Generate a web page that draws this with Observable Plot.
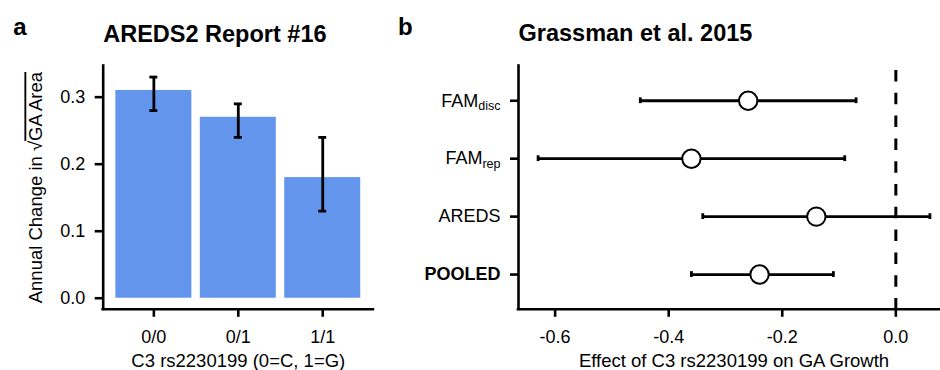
<!DOCTYPE html>
<html>
<head>
<meta charset="utf-8">
<script src="https://cdn.jsdelivr.net/npm/d3@7"></script>
<script src="https://cdn.jsdelivr.net/npm/@observablehq/plot@0.6"></script>
<style>
  body { margin: 0; background: #fff; }
  #wrap { position: relative; width: 940px; height: 370px; overflow: hidden; background: #fff; }
  #pa { position: absolute; left: 0; top: 0; width: 380px; height: 370px; }
  #pb { position: absolute; left: 380px; top: 0; width: 569px; height: 370px; }
</style>
</head>
<body>
<div id="wrap"><div id="pa"></div><div id="pb"></div></div>
<script>
// ---------- Panel a: AREDS2 Report #16 ----------
const genotypes = ["0/0", "0/1", "1/1"];
const growthMean = [0.31, 0.27, 0.18];
const growthLo = [0.28, 0.24, 0.13];
const growthHi = [0.33, 0.29, 0.24];
const yTicksA = [0.0, 0.1, 0.2, 0.3];
const titleA = "AREDS2 Report #16";
const xTitleA = "C3 rs2230199 (0=C, 1=G)";
const yTitleA = "Annual Change in √GA Area";

// ---------- Panel b: Grassman et al. 2015 (top to bottom) ----------
const studyMain = ["FAM", "FAM", "AREDS", "POOLED"];
const studySub = ["disc", "rep", "", ""];
const effect = [-0.26, -0.36, -0.14, -0.24];
const effectLo = [-0.45, -0.63, -0.34, -0.36];
const effectHi = [-0.07, -0.09, 0.06, -0.11];
const xTicksB = [-0.6, -0.4, -0.2, 0.0];
const refLine = [0];
const titleB = "Grassman et al. 2015";
const xTitleB = "Effect of C3 rs2230199 on GA Growth";

const FONT = "'Liberation Sans', Arial, Helvetica, sans-serif";
const AXW = 2.6;

const dataA = genotypes.map((g, i) => ({g, pos: i + 1, mean: growthMean[i], lo: growthLo[i], hi: growthHi[i]}));
const xDomA = [0.4, genotypes.length + 0.6];
const yDomA = [-0.0165, 0.3465];

const plotA = Plot.plot({
  width: 380, height: 370,
  marginLeft: 102.7, marginRight: 7.1, marginTop: 65.5, marginBottom: 61.2,
  style: {fontFamily: FONT, fontSize: "18px", color: "#000", background: "#fff", overflow: "visible"},
  x: {domain: xDomA},
  y: {domain: yDomA},
  marks: [
    Plot.rect(dataA, {x1: d => d.pos - 0.45, x2: d => d.pos + 0.45, y1: d => 0, y2: "mean", fill: "#6495ED"}),
    Plot.ruleX(dataA, {x: "pos", y1: "lo", y2: "hi", stroke: "#000", strokeWidth: 2.8}),
    Plot.ruleY(dataA, {y: "lo", x1: d => d.pos - 0.047, x2: d => d.pos + 0.047, stroke: "#000", strokeWidth: 2.8}),
    Plot.ruleY(dataA, {y: "hi", x1: d => d.pos - 0.047, x2: d => d.pos + 0.047, stroke: "#000", strokeWidth: 2.8}),
    Plot.ruleX([xDomA[0]], {stroke: "#000", strokeWidth: AXW, strokeLinecap: "square"}),
    Plot.ruleY([yDomA[0]], {stroke: "#000", strokeWidth: AXW, strokeLinecap: "square"}),
    Plot.axisY({ticks: yTicksA, tickFormat: d => d.toFixed(1), tickSize: 8, tickPadding: 10, strokeWidth: AXW, label: null, fontSize: 18}),
    Plot.axisX({ticks: dataA.map(d => d.pos), tickFormat: p => genotypes[p - 1], tickSize: 8, tickPadding: 13, strokeWidth: AXW, label: null, fontSize: 18}),
    Plot.text([titleA], {text: d => d, frameAnchor: "top-left", textAnchor: "start", lineAnchor: "bottom", dy: -24, fontSize: 23.5, fontWeight: "bold"}),
    Plot.text(["a"], {text: d => d, frameAnchor: "top-left", textAnchor: "start", lineAnchor: "bottom", dx: -90, dy: -31.5, fontSize: 24, fontWeight: "bold"}),
    Plot.text([xTitleA], {text: d => d, frameAnchor: "bottom", lineAnchor: "bottom", dy: 57.2, fontSize: 18.5}),
    Plot.text([yTitleA], {text: d => d, frameAnchor: "left", rotate: -90, textAnchor: "middle", lineAnchor: "middle", dx: -66.7, fontSize: 18.5})
  ]
});
document.getElementById("pa").appendChild(plotA);

// sqrt overline on the y title
d3.select(plotA).selectAll("text").each(function() {
  if (this.textContent === yTitleA) {
    const t = d3.select(this);
    const parts = yTitleA.split("√");
    t.text(null);
    t.append("tspan").text(parts[0] + "√");
    t.append("tspan").style("text-decoration", "overline").text(parts[1]);
  }
});

// ---------- Panel b ----------
const n = studyMain.length;
const dataB = studyMain.map((m, i) => ({
  label: m + studySub[i], main: m, sub: studySub[i], pos: n - i,
  est: effect[i], lo: effectLo[i], hi: effectHi[i]
}));
const xDomB = [-0.6645, 0.0945];
const yDomB = [0.4, n + 0.6];

const plotB = Plot.plot({
  width: 569, height: 370,
  marginLeft: 138, marginRight: 0, marginTop: 65.5, marginBottom: 61.2,
  style: {fontFamily: FONT, fontSize: "18px", color: "#000", background: "#fff", overflow: "visible"},
  x: {domain: xDomB},
  y: {domain: yDomB},
  marks: [
    Plot.ruleX(refLine, {stroke: "#000", strokeWidth: 3, strokeDasharray: "11.5,11.3", strokeDashoffset: 18.3}),
    Plot.ruleY(dataB, {y: "pos", x1: "lo", x2: "hi", stroke: "#000", strokeWidth: 2.8}),
    Plot.ruleX(dataB, {x: "lo", y1: d => d.pos - 0.05, y2: d => d.pos + 0.05, stroke: "#000", strokeWidth: 2.8}),
    Plot.ruleX(dataB, {x: "hi", y1: d => d.pos - 0.05, y2: d => d.pos + 0.05, stroke: "#000", strokeWidth: 2.8}),
    Plot.dot(dataB, {x: "est", y: "pos", r: 9.2, fill: "#fff", stroke: "#000", strokeWidth: 2}),
    Plot.ruleX([xDomB[0]], {stroke: "#000", strokeWidth: AXW, strokeLinecap: "square"}),
    Plot.ruleY([yDomB[0]], {stroke: "#000", strokeWidth: AXW, strokeLinecap: "square"}),
    Plot.axisY({ticks: dataB.map(d => d.pos), tickFormat: p => dataB.find(d => d.pos === p).label, tickSize: 8, tickPadding: 10, strokeWidth: AXW, label: null, fontSize: 18}),
    Plot.axisX({ticks: xTicksB, tickFormat: d => d.toFixed(1), tickSize: 8, tickPadding: 13, strokeWidth: AXW, label: null, fontSize: 18}),
    Plot.text([titleB], {text: d => d, frameAnchor: "top-left", textAnchor: "start", lineAnchor: "bottom", dy: -25, fontSize: 23.5, fontWeight: "bold"}),
    Plot.text(["b"], {text: d => d, frameAnchor: "top-left", textAnchor: "start", lineAnchor: "bottom", dx: -120.5, dy: -31.5, fontSize: 24, fontWeight: "bold"}),
    Plot.text([xTitleB], {text: d => d, frameAnchor: "bottom", lineAnchor: "bottom", dy: 57.2, fontSize: 18.5})
  ]
});
document.getElementById("pb").appendChild(plotB);

// subscripts and bold pooled label
d3.select(plotB).selectAll("text").each(function() {
  const d = dataB.find(r => r.label === this.textContent);
  if (!d) return;
  const t = d3.select(this);
  t.text(null);
  t.append("tspan").text(d.main);
  if (d.sub) t.append("tspan").attr("font-size", 12.5).attr("dy", 3.5).text(d.sub);
  if (d.main === "POOLED") t.attr("font-weight", "bold");
});
</script>
</body>
</html>
